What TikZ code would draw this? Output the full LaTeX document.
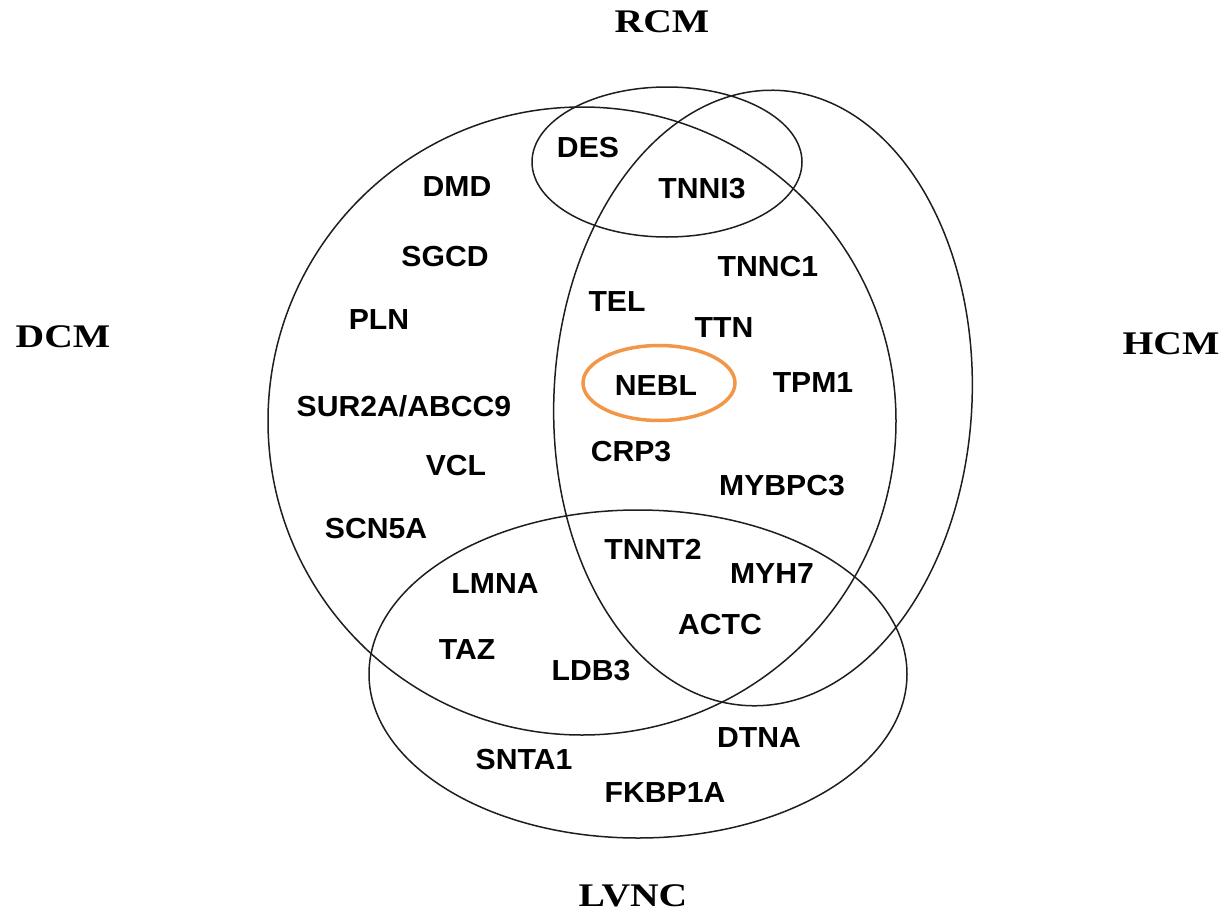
\documentclass[tikz,border=0pt]{standalone}
\usepackage{fontspec}
\setmainfont{Liberation Serif}
\newfontfamily\genefont[FakeStretch=1.04]{Liberation Sans}
\newfontfamily\headfont[FakeStretch=1.2]{Liberation Serif}
\definecolor{hlorange}{RGB}{242,150,72}
\definecolor{setline}{RGB}{30,30,30}
\tikzset{
  setcurve/.style={draw=setline, line width=1.5pt},
  gene/.style={font=\genefont\bfseries\fontsize{29}{30}\selectfont, inner sep=0pt, text=black},
  head/.style={font=\headfont\bfseries\fontsize{33}{34}\selectfont, inner sep=0pt, text=black},
  hlring/.style={draw=hlorange, line width=3.5pt}
}
\begin{document}
\begin{tikzpicture}[x=1pt, y=-1pt]
\useasboundingbox (0,0) rectangle (1227,913);
% set outlines
\draw[setcurve] (582,421) circle [radius=314pt];
\draw[setcurve, rotate around={-3:(763,398)}] (763,398) ellipse [x radius=209pt, y radius=308pt];
\draw[setcurve] (667,162) ellipse [x radius=135pt, y radius=75pt];
\draw[setcurve] (638,674) ellipse [x radius=269pt, y radius=164pt];
% highlight
\draw[hlring] (659,383) ellipse [x radius=76pt, y radius=37.5pt];
% set titles
\node[head] (rcm) at (662,22) {RCM};
\node[head] (dcm) at (63,337) {DCM};
\node[head] (hcm) at (1171,344) {HCM};
\node[head] (lvnc) at (633,896) {LVNC};
% genes
\node[gene] (des) at (588,148) {DES};
\node[gene] (tnni3) at (702,189) {TNNI3};
\node[gene] (dmd) at (457,187) {DMD};
\node[gene] (sgcd) at (445,257) {SGCD};
\node[gene] (pln) at (379,320) {PLN};
\node[gene] (sur) at (404,406) {SUR2A/ABCC9};
\node[gene] (vcl) at (456,466) {VCL};
\node[gene] (scn) at (376,529) {SCN5A};
\node[gene] (tel) at (617,302) {TEL};
\node[gene] (tnnc) at (768,267) {TNNC1};
\node[gene] (ttn) at (724,328) {TTN};
\node[gene] (nebl) at (656,386) {NEBL};
\node[gene] (tpm) at (813,383) {TPM1};
\node[gene] (crp) at (631,452) {CRP3};
\node[gene] (mybpc) at (782,486) {MYBPC3};
\node[gene] (tnnt) at (653,549) {TNNT2};
\node[gene] (myh) at (772,574) {MYH7};
\node[gene] (actc) at (720,625) {ACTC};
\node[gene] (lmna) at (495,584) {LMNA};
\node[gene] (taz) at (467,650) {TAZ};
\node[gene] (ldb) at (591,671) {LDB3};
\node[gene] (dtna) at (759,738) {DTNA};
\node[gene] (snta) at (524,760) {SNTA1};
\node[gene] (fkbp) at (665,793) {FKBP1A};
\end{tikzpicture}
\end{document}
